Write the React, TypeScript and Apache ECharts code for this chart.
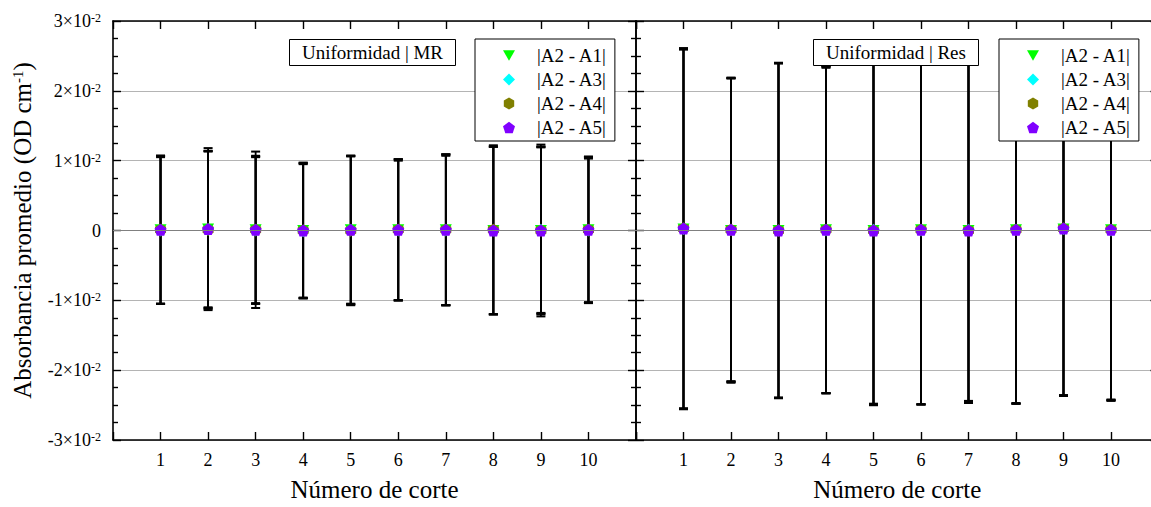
import React, { useEffect, useRef } from "react";
import * as echarts from "echarts";

const FONT = '"Liberation Serif", "Times New Roman", serif';

const cuts = [1, 2, 3, 4, 5, 6, 7, 8, 9, 10];
const seriesNames = ["|A2 - A1|", "|A2 - A3|", "|A2 - A4|", "|A2 - A5|"];
const panelTitles = ["Uniformidad | MR", "Uniformidad | Res"];
const xAxisTitle = "Número de corte";

// values in units of 1e-2 OD cm^-1
const mrMeanA1 = [0.01, 0.02, 0.01, 0.0, 0.01, 0.01, 0.01, 0.0, 0.0, 0.01];
const mrMeanA3 = [0.0, 0.01, 0.0, -0.01, 0.0, 0.0, 0.0, 0.0, 0.01, 0.0];
const mrMeanA4 = [0.01, 0.01, 0.01, 0.0, 0.0, 0.01, 0.01, 0.01, 0.0, 0.01];
const mrMeanA5 = [0.01, 0.02, 0.01, 0.0, 0.01, 0.01, 0.01, 0.0, 0.0, 0.01];
const mrErrA1 = [1.06, 1.16, 1.12, 0.97, 1.06, 1.01, 1.08, 1.2, 1.23, 1.05];
const mrErrA3 = [1.05, 1.12, 1.05, 0.96, 1.06, 1.0, 1.07, 1.2, 1.19, 1.03];
const mrErrA4 = [1.06, 1.13, 1.06, 0.97, 1.07, 1.01, 1.08, 1.21, 1.2, 1.04];
const mrErrA5 = [1.06, 1.12, 1.05, 0.96, 1.06, 1.01, 1.08, 1.2, 1.19, 1.04];

const resMeanA1 = [0.02, 0.0, 0.0, 0.01, 0.0, 0.01, 0.0, 0.01, 0.02, 0.01];
const resMeanA3 = [0.02, 0.01, 0.0, 0.0, 0.01, 0.0, 0.01, 0.01, 0.02, 0.0];
const resMeanA4 = [0.03, 0.01, 0.0, 0.01, 0.0, 0.01, 0.0, 0.01, 0.03, 0.01];
const resMeanA5 = [0.03, 0.01, 0.0, 0.01, 0.0, 0.01, 0.0, 0.01, 0.03, 0.01];
const resErrA1 = [2.58, 2.18, 2.4, 2.34, 2.5, 2.5, 2.46, 2.49, 2.39, 2.44];
const resErrA3 = [2.57, 2.17, 2.4, 2.33, 2.49, 2.49, 2.45, 2.49, 2.38, 2.44];
const resErrA4 = [2.58, 2.18, 2.39, 2.34, 2.5, 2.5, 2.46, 2.48, 2.39, 2.43];
const resErrA5 = [2.58, 2.17, 2.4, 2.34, 2.5, 2.5, 2.47, 2.49, 2.39, 2.44];

const PENTAGON = "path://M0,-1 L0.951,-0.309 L0.588,0.809 L-0.588,0.809 L-0.951,-0.309 Z";
const HEXAGON = "path://M0,-1 L0.866,-0.5 L0.866,0.5 L0,1 L-0.866,0.5 L-0.866,-0.5 Z";
const TRIDOWN = "path://M-1,-0.866 L1,-0.866 L0,0.866 Z";

const styles = [
  { color: "#00ff00", symbol: TRIDOWN, size: [12, 11] },
  { color: "#00ffff", symbol: "diamond", size: [12, 12] },
  { color: "#808000", symbol: HEXAGON, size: [11, 12] },
  { color: "#8000ff", symbol: PENTAGON, size: [12, 12] },
];

const panels = [
  { means: [mrMeanA1, mrMeanA3, mrMeanA4, mrMeanA5], errs: [mrErrA1, mrErrA3, mrErrA4, mrErrA5] },
  { means: [resMeanA1, resMeanA3, resMeanA4, resMeanA5], errs: [resErrA1, resErrA3, resErrA4, resErrA5] },
];

export default function App() {
  const ref = useRef<HTMLDivElement>(null);
  useEffect(() => {
    if (!ref.current) return;
    const chart = echarts.init(ref.current, null, { renderer: "svg" });

    const S = 0.01;
    const grids = [
      { left: 113, top: 21, width: 523, height: 422 },
      { left: 636, top: 21, width: 522.5, height: 422 },
    ];

    const axisLine = { show: true, onZero: false, lineStyle: { color: "#000", width: 1.6 } };
    const tick = { show: true, inside: true, length: 8, lineStyle: { color: "#000", width: 1.4 } };

    const xAxes: any[] = [];
    const yAxes: any[] = [];
    [0, 1].forEach((g) => {
      xAxes.push({
        type: "value", gridIndex: g, position: "bottom", min: 0, max: 11, interval: 1,
        axisLine, axisTick: tick,
        axisLabel: {
          margin: 11, fontSize: 18, fontFamily: FONT, color: "#000",
          formatter: (v: number) => (cuts.indexOf(v) >= 0 ? String(v) : ""),
        },
        splitLine: { show: false },
        name: xAxisTitle, nameLocation: "middle", nameGap: 37,
        nameTextStyle: { fontSize: 25, fontFamily: FONT, color: "#000" },
      });
      xAxes.push({
        type: "value", gridIndex: g, position: "top", min: 0, max: 11, interval: 1,
        axisLine, axisTick: tick,
        axisLabel: { show: false }, splitLine: { show: false },
      });
      const baseY: any = {
        type: "value", gridIndex: g, min: -0.03, max: 0.03, interval: 0.01,
        axisLine, axisTick: tick,
        minorTick: { show: true, splitNumber: 4, length: 5, lineStyle: { color: "#000", width: 1.4 } },
      };
      yAxes.push({
        ...baseY, position: "left",
        axisLabel: {
          show: g === 0, margin: 12, fontSize: 18, fontFamily: FONT, color: "#000",
          formatter: (v: number) => {
            const n = Math.round(v / S);
            if (n === 0) return "0";
            return `${n}×10{sup|-2}`;
          },
          rich: { sup: { fontSize: 12, verticalAlign: "top", fontFamily: FONT, color: "#000" } },
        },
        splitLine: { show: true, lineStyle: { color: "#b4b4b4", width: 1 } },
        name: g === 0 ? "Absorbancia promedio (OD cm{sup|-1})" : "",
        nameLocation: "middle", nameRotate: 90, nameGap: 78,
        nameTextStyle: {
          fontSize: 25, fontFamily: FONT, color: "#000",
          rich: { sup: { fontSize: 15, verticalAlign: "top", fontFamily: FONT, color: "#000" } },
        },
      });
      yAxes.push({
        ...baseY, position: "right", axisLabel: { show: false }, splitLine: { show: false },
      });
    });

    const series: any[] = [];
    panels.forEach((p, g) => {
      p.means.forEach((mArr, si) => {
        const eArr = p.errs[si];
        series.push({
          type: "custom", name: seriesNames[si] + "_err", xAxisIndex: g * 2, yAxisIndex: g * 2, z: 1,
          silent: true,
          data: cuts.map((c, i) => [c, mArr[i] * S, (mArr[i] - eArr[i]) * S, (mArr[i] + eArr[i]) * S]),
          encode: { x: 0, y: [1, 2, 3] },
          renderItem: (params: any, api: any) => {
            const x = api.value(0);
            const top = api.coord([x, api.value(3)]);
            const bot = api.coord([x, api.value(2)]);
            return {
              type: "group",
              children: [
                { type: "line", shape: { x1: top[0], y1: top[1], x2: bot[0], y2: bot[1] }, style: { stroke: "#000", lineWidth: 1.8 } },
                { type: "line", shape: { x1: top[0] - 4.5, y1: top[1], x2: top[0] + 4.5, y2: top[1] }, style: { stroke: "#000", lineWidth: 2 } },
                { type: "line", shape: { x1: bot[0] - 4.5, y1: bot[1], x2: bot[0] + 4.5, y2: bot[1] }, style: { stroke: "#000", lineWidth: 2 } },
              ],
            };
          },
          ...(si === 0
            ? {
                markLine: {
                  silent: true, symbol: "none", label: { show: false },
                  lineStyle: { color: "#808080", width: 1, type: "solid" },
                  data: [{ yAxis: 0 }],
                },
              }
            : {}),
        });
      });
      p.means.forEach((mArr, si) => {
        const s = styles[si];
        series.push({
          type: "scatter", name: seriesNames[si], xAxisIndex: g * 2, yAxisIndex: g * 2, z: 3,
          symbol: s.symbol, symbolSize: s.size,
          itemStyle: { color: s.color, opacity: 1 },
          data: cuts.map((c, i) => [c, mArr[i] * S]),
        });
      });
    });

    const legendBase = {
      orient: "vertical", top: 39,
      data: seriesNames.map((n, i) => ({ name: n, icon: styles[i].symbol })),
      itemWidth: 12, itemHeight: 12, itemGap: 5,
      borderColor: "#000", borderWidth: 1, backgroundColor: "#fff",
      padding: [7, 8, 4, 28], selectedMode: false,
      textStyle: { fontSize: 19, fontFamily: FONT, color: "#000", lineHeight: 19, padding: [0, 0, 0, 17] },
    };

    const titleBase = {
      top: 39, borderColor: "#000", borderWidth: 1, backgroundColor: "#fff",
      padding: [4, 13, 4, 13],
      textStyle: { fontSize: 19, fontWeight: "normal", fontFamily: FONT, color: "#000" },
    };

    chart.setOption({
      animation: false,
      title: [
        { ...titleBase, text: panelTitles[0], left: 289 },
        { ...titleBase, text: panelTitles[1], left: 813 },
      ],
      legend: [
        { ...legendBase, left: 475 },
        { ...legendBase, left: 999 },
      ],
      grid: grids,
      xAxis: xAxes,
      yAxis: yAxes,
      series,
    });
    return () => chart.dispose();
  }, []);

  return (
    <div style={{ position: "absolute", left: 0, top: 0, width: 1151, height: 507, overflow: "hidden", background: "#fff" }}>
      <div ref={ref} style={{ width: 1170, height: 507 }} />
    </div>
  );
}
